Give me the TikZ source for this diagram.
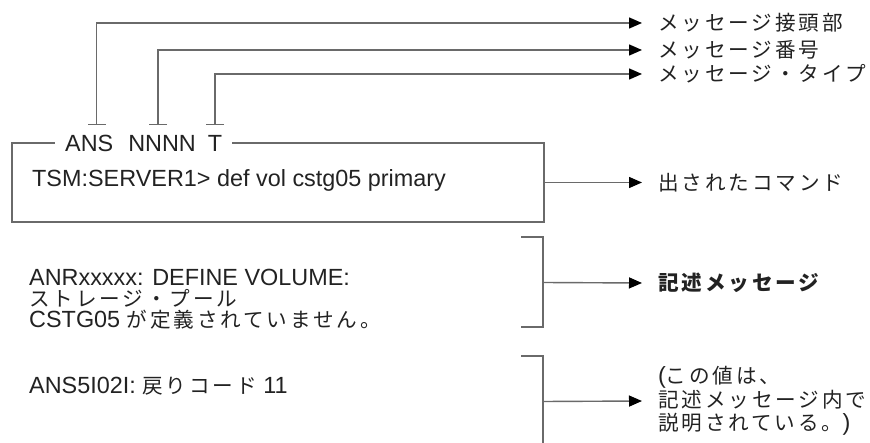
\documentclass[tikz,border=0pt]{standalone}
\usepackage{fontspec}
\setmainfont{Liberation Sans}
\newfontfamily\jp{Noto Sans CJK JP}[Scale=0.88,LetterSpace=14]
\usetikzlibrary{arrows.meta}
\definecolor{ln}{HTML}{6A6A6A}
\definecolor{tx}{HTML}{222222}
\begin{document}
\begin{tikzpicture}[x=1pt,y=-1pt,
  conn/.style={draw=ln,line width=1.4pt},
  arr/.style={conn,-{Triangle[length=13pt,width=11pt,color=black]}},
  tbar/.style={conn,{Bar[width=18pt]}-{Triangle[length=13pt,width=11pt,color=black]}},
  txt/.style={text=tx,font=\fontsize{23.4}{23}\selectfont,inner sep=0pt},
  lbl/.style={txt,anchor=west,inner xsep=16pt,inner ysep=0pt},
  ]
\path[use as bounding box] (0,0) rectangle (870,443);
% right-hand labels
\node[lbl] (pre) at (642,23) {\jp メッセージ接頭部};
\node[lbl] (num) at (642,50) {\jp メッセージ番号};
\node[lbl] (typ) at (642,74) {\jp メッセージ・タイプ};
\node[lbl] (cmdl) at (642,182.5) {\jp 出されたコマンド};
\node[lbl] (desc) at (642,283) {\jp\bfseries 記述メッセージ};
\node[lbl,align=left,font={\fontsize{23.4}{23.5}\selectfont\lineskiplimit=-50pt}] (note) at (642,401)
  {({\jp この値は、}\\{\jp 記述メッセージ内で}\\{\jp 説明されている。})};
% command box
\node[draw=ln,line width=1.4pt,minimum width=532pt,minimum height=79pt,inner sep=0pt] (box) at (278,182.5) {};
\node[txt,fill=white,anchor=west,inner xsep=10pt,inner ysep=2pt] (hdr) at (55,143)
  {ANS\hspace{15pt}NNNN\hspace{12pt}T};
\node[txt,anchor=west] (cmd) at (32,180.5) {TSM:SERVER1> def vol cstg05 primary};
% messages
\node[txt,anchor=west,align=left,font={\fontsize{23.4}{21}\selectfont\lineskiplimit=-50pt}] (msg1) at (29,299)
  {ANRxxxxx: DEFINE VOLUME:\\{\jp ストレージ・プール}\\CSTG05 {\jp が定義されていません。}};
\node[txt,anchor=west] (msg2) at (29,386) {ANS5I02I: {\jp 戻りコード} 11};
% T-bar connectors
\coordinate (ta) at (96.5,125);
\coordinate (tn) at (158,125);
\coordinate (tt) at (215,125);
\draw[tbar] (ta) |- (pre.west);
\draw[tbar] (tn) |- (num.west);
\draw[tbar] (tt) |- (typ.west);
\draw[arr] (box.east) -- (cmdl.west);
% brackets
\coordinate (b1a) at (521,237);
\coordinate (b1b) at (521,327);
\coordinate (b1m) at (543,282.5);
\draw[conn] (b1a) -| (b1m) |- (b1b);
\draw[arr] (b1m) -- (desc.west);
\coordinate (b2a) at (521,356);
\coordinate (b2e) at (543,443);
\coordinate (b2m) at (543,401.5);
\draw[conn] (b2a) -| (b2e);
\draw[arr] (b2m) -- (note.west);
\end{tikzpicture}
\end{document}
